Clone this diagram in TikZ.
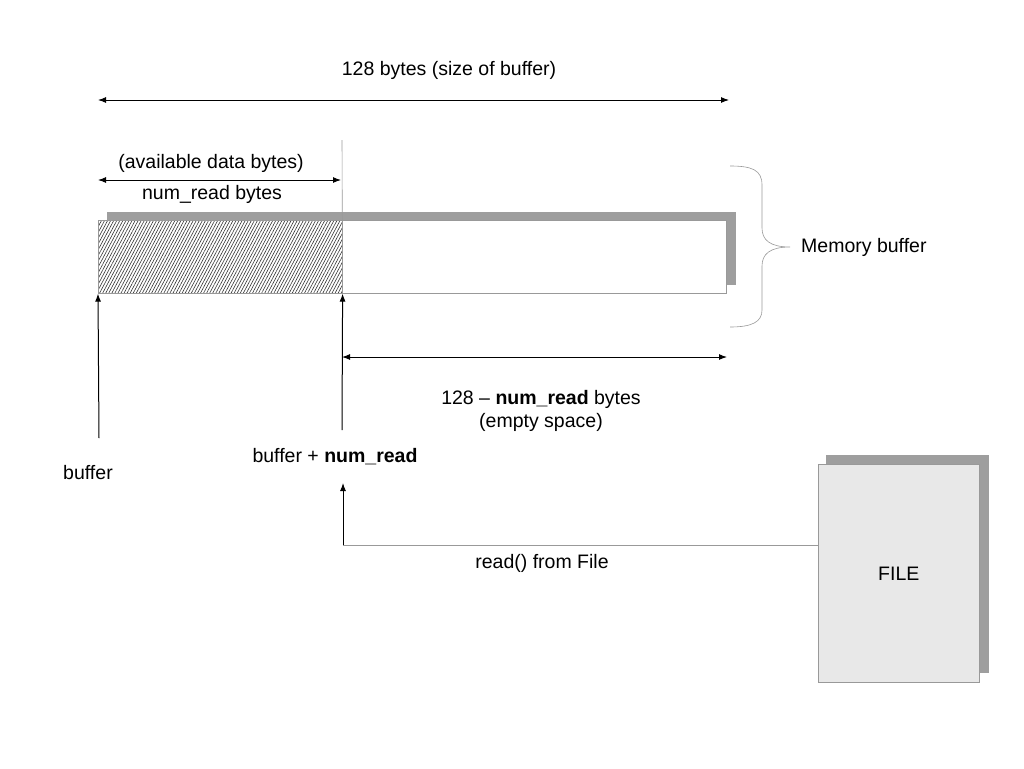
\documentclass[tikz,border=0pt]{standalone}
\usepackage{fontspec}
\setmainfont{Liberation Sans}
\usetikzlibrary{arrows.meta,patterns.meta,positioning}

\begin{document}
\begin{tikzpicture}
  [x=1pt, y=-1pt,
   every node/.style={font=\fontsize{19.5}{23}\selectfont, inner sep=1pt},
   dim/.style={{Latex[length=8pt,width=6pt]}-{Latex[length=8pt,width=6pt]}, line width=1pt},
   ptr/.style={-{Latex[length=8pt,width=6pt]}, line width=1pt},
   cell/.style={draw=black!40, line width=0.6pt, inner sep=0pt, anchor=north west,
                minimum height=73pt},
   thin/.style={draw=black!40, line width=0.6pt}]
  \useasboundingbox (0,0) rectangle (1024,768);

  % buffer with its shadow
  \fill[black!38] (107,212) rectangle (736,285);
  \node[cell, fill=white, minimum width=384pt] (free) at (342,220) {};
  \node[cell, minimum width=244pt, preaction={fill=white},
        pattern={Lines[angle=62,distance=2.7pt,line width=0.6pt]},
        pattern color=black!80] (data) at (98,220) {};
  \draw[thin] (342,140) -- (data.south east);

  % size of the buffer
  \coordinate (sizeL) at (98,100);
  \coordinate (sizeR) at (729,100);
  \draw[dim] (sizeL) -- (sizeR);
  \node (sizelbl) at (449,70) {128 bytes (size of buffer)};

  % bytes already read
  \coordinate (readL) at (98,180);
  \coordinate (readR) at (341,180);
  \draw[dim] (readL) -- (readR);
  \node (availlbl) at (211,163) {(available data bytes)};
  \node (numlbl) at (212,194) {num\_read bytes};

  % empty space
  \coordinate (emptyL) at (342,357);
  \coordinate (emptyR) at (727,357);
  \draw[dim] (emptyL) -- (emptyR);
  \node[align=center] (emptylbl) at (541,411)
    {128 -- \textbf{num\_read} bytes\\(empty space)};

  % brace
  \draw[thin] (730,166) .. controls (752,166) and (762,170) .. (762,185)
    -- (762,228) .. controls (762,240) and (770,247) .. (790,247)
    .. controls (770,247) and (762,254) .. (762,266)
    -- (762,310) .. controls (762,322) and (752,327) .. (730,327);
  \node[anchor=west] (memlbl) at (800,247) {Memory buffer};

  % pointers
  \coordinate (buftail) at (99,438);
  \draw[ptr] (buftail) -- (data.south west);
  \node (buflbl) at (88,473) {buffer};
  \coordinate (ptrtail) at (342,430);
  \draw[ptr] (ptrtail) -- (data.south east);
  \node (ptrlbl) at (335,457) {buffer + \textbf{num\_read}};

  % the file
  \fill[black!38] (826,455) rectangle (989,673);
  \node[thin, fill=black!9, inner sep=0pt, anchor=north west,
        minimum width=161pt, minimum height=218pt] (file) at (818,464) {FILE};
  \coordinate (bend) at (343,545);
  \coordinate (readtip) at (343,483);
  \draw[thin] (file.west |- bend) -- (bend);
  \draw[ptr] (bend) -- (readtip);
  \node (readlbl) at (542,563) {read() from File};
\end{tikzpicture}
\end{document}
